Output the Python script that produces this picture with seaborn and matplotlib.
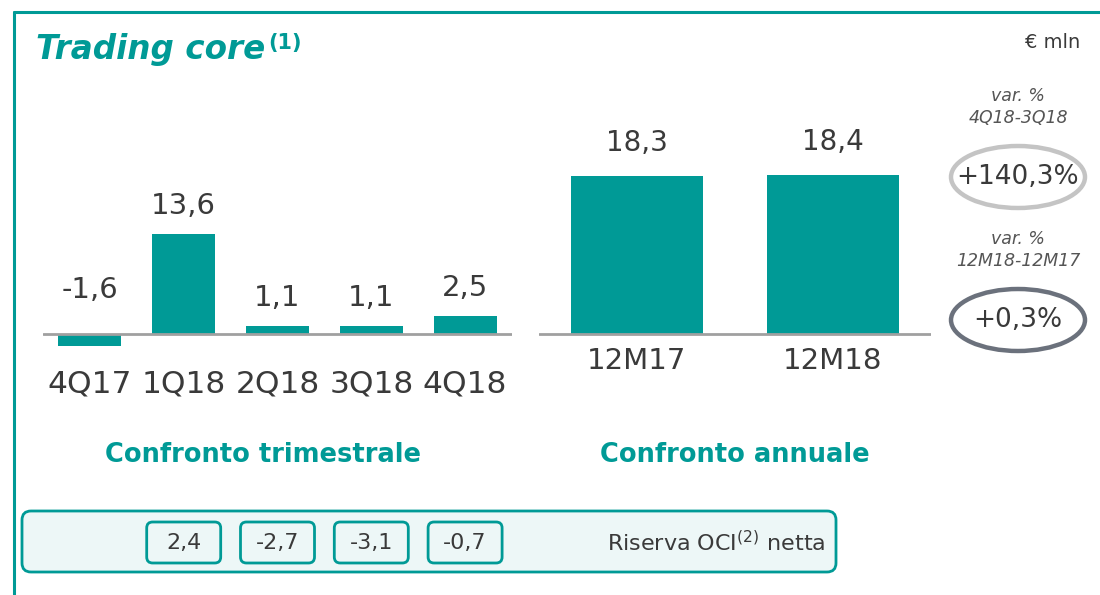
import seaborn as sns  # seaborn for the bars
import matplotlib.pyplot as plt  # matplotlib for layout and decorations
from matplotlib.patches import Ellipse, FancyBboxPatch  # shapes for the boxes and ovals

# data (EUR mln)
quarters = ["4Q17", "1Q18", "2Q18", "3Q18", "4Q18"]
quarter_values = [-1.6, 13.6, 1.1, 1.1, 2.5]
years = ["12M17", "12M18"]
year_values = [18.3, 18.4]
oci_quarters = ["1Q18", "2Q18", "3Q18", "4Q18"]
oci_values = [2.4, -2.7, -3.1, -0.7]
var_titles = ["var. %\n4Q18-3Q18", "var. %\n12M18-12M17"]
var_values = [140.3, 0.3]

TEAL = "#009a96"
DARK = "#3a3a3a"


def fmt(v):
    return f"{v:.1f}".replace(".", ",")  # italian decimal comma


sns.set_theme(style="white")
plt.rcParams["font.family"] = ["DejaVu Sans"]
plt.rcParams["mathtext.default"] = "regular"

fig = plt.figure(figsize=(11, 5.95), dpi=100)

# background axes in pixel coordinates for frame and annotations
bg = fig.add_axes([0, 0, 1, 1])
bg.set_xlim(0, 1100)
bg.set_ylim(595, 0)
bg.axis("off")

# quarterly bars
ax1 = fig.add_axes([43 / 1100, 1 - 356 / 595, 469 / 1100, 23 * 7.35 / 595])
sns.barplot(x=quarters, y=quarter_values, order=quarters, ax=ax1, color=TEAL,
            saturation=1, width=0.67, linewidth=0)
ax1.set_xlim(-0.5, 4.5)
ax1.set_ylim(-3, 20)
for i, v in enumerate(quarter_values):
    off = 20 if v >= 0 else 32
    ax1.annotate(fmt(v), (i, max(v, 0)), xytext=(0, off), textcoords="offset points",
                 ha="center", va="center", fontsize=21, color=DARK)

# yearly bars
ax2 = fig.add_axes([539 / 1100, 1 - 338.3 / 595, 392 / 1100, 21.5 * 8.63 / 595])
sns.barplot(x=years, y=year_values, order=years, ax=ax2, color=TEAL,
            saturation=1, width=0.67, linewidth=0)
ax2.set_xlim(-0.5, 1.5)
ax2.set_ylim(-0.5, 21)
for i, v in enumerate(year_values):
    ax2.annotate(fmt(v), (i, v), xytext=(0, 24), textcoords="offset points",
                 ha="center", va="center", fontsize=20, color=DARK)

for ax, pad, size in [(ax1, 10, 22.5), (ax2, 6, 21)]:
    ax.set_facecolor("none")
    ax.axhline(0, color="#a0a0a0", lw=2, zorder=3)
    ax.set_yticks([])
    ax.set_xlabel("")
    ax.set_ylabel("")
    ax.tick_params(axis="x", length=0, pad=pad, labelsize=size, labelcolor=DARK)
    sns.despine(ax=ax, left=True, bottom=True)

# teal frame
bg.plot([14, 14], [12, 595], color=TEAL, lw=2.2, clip_on=False)
bg.plot([14, 1100], [12, 12], color=TEAL, lw=2.2, clip_on=False)

# title with superscript note
t = bg.text(36, 50, "Trading core", fontsize=23.5, fontweight="bold", fontstyle="italic",
            color=TEAL, va="center", ha="left")
fig.canvas.draw()
ext = t.get_window_extent()
bg.text(ext.x1 + 3, 43, "(1)", fontsize=15, fontweight="bold", color=TEAL,
        va="center", ha="left")

bg.text(1080, 42, "€ mln", fontsize=14, color=DARK, ha="right", va="center")

# section subtitles
bg.text(263, 455, "Confronto trimestrale", fontsize=18.5, fontweight="bold", color=TEAL,
        ha="center", va="center")
bg.text(735, 455, "Confronto annuale", fontsize=18.5, fontweight="bold", color=TEAL,
        ha="center", va="center")

# variation ovals
oval_y = [177, 320]
oval_edge = ["#c4c4c4", "#6b717c"]
for title, v, y, ec in zip(var_titles, var_values, oval_y, oval_edge):
    bg.text(1018, y - 70, title, fontsize=12.5, fontstyle="italic", color="#555555",
            ha="center", va="center", linespacing=1.25)
    bg.add_patch(Ellipse((1018, y), 134, 62, fill=False, edgecolor=ec, lw=3.2))
    bg.text(1018, y, f"+{fmt(v)}%", fontsize=19, color=DARK, ha="center", va="center")

# OCI reserve strip
bg.add_patch(FancyBboxPatch((22, 511), 814, 61, boxstyle="round,pad=0,rounding_size=9",
                            facecolor="#edf7f7", edgecolor=TEAL, lw=2))
for q, v in zip(oci_quarters, oci_values):
    xc = ax1.transData.transform((quarters.index(q), 0))[0]
    bg.add_patch(FancyBboxPatch((xc - 37, 522), 74, 41, boxstyle="round,pad=0,rounding_size=6",
                                facecolor="#edf7f7", edgecolor=TEAL, lw=2))
    bg.text(xc, 543, fmt(v), fontsize=16, color=DARK, ha="center", va="center")
bg.text(607, 543, "Riserva OCI$^{(2)}$ netta", fontsize=16, color=DARK, ha="left", va="center")

fig.savefig("out.png", dpi=100)
